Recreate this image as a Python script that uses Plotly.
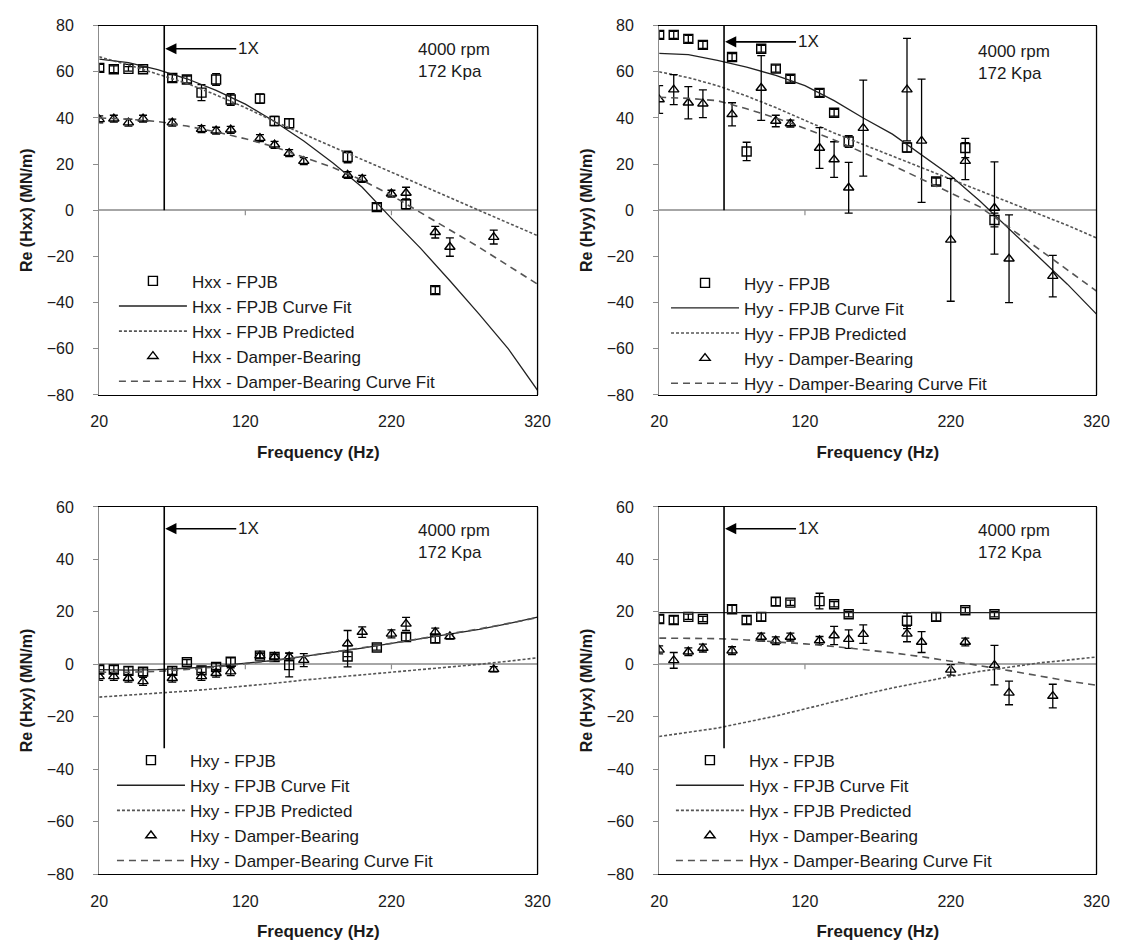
import plotly.graph_objects as go

# ---------------- data ----------------
FREQ_FIT = [20, 40, 60, 80, 100, 120, 140, 160, 180, 200, 220, 240, 260, 280, 300, 320]
ONE_X = 64.5  # running speed, 4000 rpm

# Hxx
hxx_fpjb_f = [20, 30, 40, 50, 70, 80, 90, 100, 110, 130, 140, 150, 190, 210, 230, 250]
hxx_fpjb_v = [61.7, 61.1, 61.3, 61.1, 57.3, 56.7, 51.0, 56.7, 48.0, 48.4, 38.7, 37.7, 23.1, 1.4, 2.6, -34.6]
hxx_fpjb_e = [1.5, 1.5, 1.0, 1.0, 1.5, 1.5, 3.5, 2.5, 2.5, 2.0, 2.0, 2.0, 2.5, 1.5, 2.0, 1.5]
hxx_db_f = [20, 30, 40, 50, 70, 90, 100, 110, 130, 140, 150, 160, 190, 200, 220, 230, 250, 260, 290]
hxx_db_v = [39.4, 39.7, 38.0, 39.7, 38.0, 35.2, 34.5, 34.9, 31.3, 28.4, 24.8, 21.3, 15.3, 13.6, 7.2, 7.5, -9.5, -15.9, -11.6]
hxx_db_e = [1.5, 1.5, 1.5, 1.5, 1.5, 1.5, 1.5, 1.5, 1.5, 1.5, 1.5, 1.5, 1.5, 1.5, 1.5, 2.5, 2.5, 4.0, 3.0]
hxx_fit = [65.5, 64.0, 61.0, 57.0, 52.0, 46.0, 38.5, 30.0, 20.5, 10.0, -3.5, -16.5, -30.5, -45.0, -60.0, -78.0]
hxx_pred = [66.5, 63.0, 59.0, 55.0, 50.0, 44.5, 38.5, 33.0, 27.5, 22.0, 16.5, 11.0, 5.5, 0.0, -5.5, -11.0]
hxx_db_fit = [40.0, 39.5, 38.5, 36.5, 34.0, 31.0, 27.5, 23.0, 18.5, 13.0, 6.5, -1.0, -8.5, -16.0, -24.0, -32.0]

# Hyy
hyy_fpjb_f = [20, 30, 40, 50, 70, 80, 90, 100, 110, 130, 140, 150, 190, 210, 230, 250]
hyy_fpjb_v = [76.0, 76.0, 74.3, 71.7, 66.4, 25.5, 70.0, 61.4, 57.0, 50.9, 42.3, 29.8, 27.2, 12.5, 27.0, -4.2]
hyy_fpjb_e = [1.5, 1.5, 1.5, 1.5, 1.5, 4.0, 1.5, 1.5, 1.5, 1.5, 1.5, 2.5, 2.0, 1.5, 4.2, 3.0]
hyy_db_f = [20, 30, 40, 50, 70, 90, 100, 110, 130, 140, 150, 160, 190, 200, 220, 230, 250, 260, 290]
hyy_db_v = [48.0, 52.3, 46.6, 46.2, 41.6, 53.0, 38.7, 37.6, 27.0, 22.0, 9.8, 35.6, 52.3, 30.1, -12.8, 21.3, 1.0, -21.0, -28.5]
hyy_db_e = [6.0, 6.5, 7.0, 6.0, 5.0, 14.0, 2.5, 1.5, 8.8, 7.7, 11.0, 20.8, 22.2, 26.7, 26.6, 8.0, 20.0, 19.0, 9.0]
hyy_fit = [68.0, 67.5, 65.0, 62.0, 58.5, 54.0, 47.5, 40.0, 33.0, 24.0, 15.0, 4.0, -8.0, -20.0, -32.0, -45.0]
hyy_pred = [60.0, 57.5, 54.0, 49.5, 44.5, 39.0, 33.5, 28.5, 23.5, 18.5, 13.5, 8.5, 3.5, -1.5, -6.5, -12.0]
hyy_db_fit = [49.0, 48.5, 47.5, 44.0, 40.0, 35.5, 30.5, 25.0, 19.5, 13.5, 7.5, 1.5, -7.4, -16.6, -25.8, -35.0]

# Hxy
hxy_fpjb_f = [20, 30, 40, 50, 70, 80, 90, 100, 110, 130, 140, 150, 190, 210, 230, 250]
hxy_fpjb_v = [-2.0, -2.0, -2.5, -2.8, -2.5, 0.8, -2.3, -1.0, 1.0, 3.3, 2.8, -0.3, 3.0, 6.4, 10.4, 9.8]
hxy_fpjb_e = [1.5, 1.5, 1.5, 1.5, 1.5, 1.0, 1.5, 1.5, 1.5, 1.0, 1.0, 4.5, 4.0, 1.0, 1.5, 1.5]
hxy_db_f = [20, 30, 40, 50, 70, 90, 100, 110, 130, 140, 150, 160, 190, 200, 220, 230, 250, 260, 290]
hxy_db_v = [-4.6, -4.6, -5.3, -6.5, -5.3, -4.6, -3.4, -2.8, 3.3, 2.9, 2.9, 1.6, 7.9, 12.3, 11.6, 15.4, 12.3, 10.6, -1.9]
hxy_db_e = [1.5, 1.5, 1.5, 1.5, 1.5, 1.5, 1.5, 1.5, 1.0, 1.0, 1.5, 2.5, 5.0, 2.0, 1.5, 2.5, 1.5, 1.0, 1.0]
hxy_fit = [-2.0, -2.2, -2.0, -1.5, -0.7, 0.3, 1.5, 3.0, 4.5, 6.2, 8.0, 9.8, 11.5, 13.3, 15.5, 18.0]
hxy_pred = [-12.5, -11.8, -11.0, -10.2, -9.3, -8.3, -7.2, -6.0, -5.0, -4.1, -3.2, -2.2, -1.2, 0.0, 1.2, 2.5]
hxy_db_fit = [-3.0, -3.0, -2.7, -2.0, -1.0, 0.2, 1.5, 3.0, 4.6, 6.3, 8.0, 9.8, 11.6, 13.5, 15.6, 17.8]

# Hyx
hyx_fpjb_f = [20, 30, 40, 50, 70, 80, 90, 100, 110, 130, 140, 150, 190, 210, 230, 250]
hyx_fpjb_v = [17.3, 16.9, 18.1, 17.3, 21.0, 16.9, 18.1, 23.9, 23.5, 24.1, 22.9, 19.1, 16.6, 18.1, 20.6, 19.1]
hyx_fpjb_e = [1.5, 1.5, 1.0, 1.0, 1.5, 1.5, 1.5, 1.5, 1.0, 3.0, 1.0, 1.0, 3.0, 1.5, 1.0, 1.0]
hyx_db_f = [20, 30, 40, 50, 70, 90, 100, 110, 130, 140, 150, 160, 190, 200, 220, 230, 250, 260, 290]
hyx_db_v = [5.5, 1.5, 4.8, 6.2, 5.2, 10.4, 9.0, 10.4, 9.1, 11.0, 9.6, 11.5, 11.6, 8.5, -2.1, 8.5, -0.3, -10.9, -12.1]
hyx_db_e = [1.5, 3.0, 1.5, 1.5, 1.5, 1.5, 1.5, 1.5, 1.5, 3.5, 3.5, 3.5, 3.0, 4.0, 2.0, 1.5, 7.5, 4.5, 4.5]
hyx_fit = [19.7] * 16
hyx_pred = [-27.5, -26.0, -24.3, -22.0, -19.7, -17.0, -14.2, -11.5, -9.0, -6.7, -4.6, -2.7, -1.0, 0.5, 1.6, 2.8]
hyx_db_fit = [10.0, 10.0, 9.8, 9.3, 8.6, 7.8, 6.8, 5.7, 4.4, 2.9, 1.3, -0.5, -2.4, -4.4, -6.3, -8.0]

PANELS = [
    dict(name="Hxx", sq=(hxx_fpjb_f, hxx_fpjb_v, hxx_fpjb_e), tri=(hxx_db_f, hxx_db_v, hxx_db_e),
         fit=hxx_fit, pred=hxx_pred, dbfit=hxx_db_fit),
    dict(name="Hyy", sq=(hyy_fpjb_f, hyy_fpjb_v, hyy_fpjb_e), tri=(hyy_db_f, hyy_db_v, hyy_db_e),
         fit=hyy_fit, pred=hyy_pred, dbfit=hyy_db_fit),
    dict(name="Hxy", sq=(hxy_fpjb_f, hxy_fpjb_v, hxy_fpjb_e), tri=(hxy_db_f, hxy_db_v, hxy_db_e),
         fit=hxy_fit, pred=hxy_pred, dbfit=hxy_db_fit),
    dict(name="Hyx", sq=(hyx_fpjb_f, hyx_fpjb_v, hyx_fpjb_e), tri=(hyx_db_f, hyx_db_v, hyx_db_e),
         fit=hyx_fit, pred=hyx_pred, dbfit=hyx_db_fit),
]

# ---------------- layout geometry ----------------
W, H = 1136, 950
X_DOM = [(92 / W, 539 / W), (663 / W, 1109 / W), (92 / W, 539 / W), (663 / W, 1109 / W)]
Y_DOM = [(1 - 394 / H, 1 - 18 / H), (1 - 394 / H, 1 - 18 / H),
         (1 - 882 / H, 1 - 508 / H), (1 - 882 / H, 1 - 508 / H)]
Y_RANGE = [(-80, 80), (-80, 80), (-80, 60), (-80, 60)]
ONE_X_BOTTOM = [0, 0, -32, -32]
ARROW_Y = [70, 73, 51.7, 51.7]
NOTE_Y = [65, 64, 47, 47]
LEGEND_POS = [(107, 260), (670, 262), (105, 748), (675, 748)]

FONT = "Arial, 'Liberation Sans', sans-serif"
TXT = "#1a1a1a"
AXIS_GRAY = "#8c8c8c"

fig = go.Figure()
layout = dict(
    width=W, height=H, margin=dict(l=0, r=0, t=0, b=0),
    paper_bgcolor="white", plot_bgcolor="white",
    font=dict(family=FONT, size=16, color=TXT),
    showlegend=True,
)
shapes, annotations = [], []

for i, p in enumerate(PANELS):
    n = "" if i == 0 else str(i + 1)
    xa, ya = "x" + n, "y" + n
    leg = "legend" + n
    nm = p["name"]

    sf, sv, se = p["sq"]
    tf, tv, te = p["tri"]
    err = dict(type="data", visible=True, thickness=1.3, width=4, color="black")

    fig.add_trace(go.Scatter(
        x=sf, y=sv, error_y=dict(array=se, **err), mode="markers", name=f"{nm} - FPJB",
        marker=dict(symbol="square-open", size=9, color="black", line=dict(width=1.4)),
        xaxis=xa, yaxis=ya, legend=leg))
    fig.add_trace(go.Scatter(
        x=FREQ_FIT, y=p["fit"], mode="lines", name=f"{nm} - FPJB Curve Fit",
        line=dict(color="#222222", width=1.3),
        xaxis=xa, yaxis=ya, legend=leg))
    fig.add_trace(go.Scatter(
        x=FREQ_FIT, y=p["pred"], mode="lines", name=f"{nm} - FPJB Predicted",
        line=dict(color="#555555", width=1.6, dash="3px,2px"),
        xaxis=xa, yaxis=ya, legend=leg))
    fig.add_trace(go.Scatter(
        x=tf, y=tv, error_y=dict(array=te, **err), mode="markers", name=f"{nm} - Damper-Bearing",
        marker=dict(symbol="triangle-up-open", size=9, color="black", line=dict(width=1.4)),
        xaxis=xa, yaxis=ya, legend=leg))
    fig.add_trace(go.Scatter(
        x=FREQ_FIT, y=p["dbfit"], mode="lines", name=f"{nm} - Damper-Bearing Curve Fit",
        line=dict(color="#555555", width=1.6, dash="7px,5px"),
        xaxis=xa, yaxis=ya, legend=leg))

    # bottom and top frame edges come from the x axis line (mirrored)
    layout["xaxis" + n] = dict(
        domain=list(X_DOM[i]), anchor=ya, range=[20, 320], tickvals=[20, 120, 220, 320],
        ticks="", showline=True, linecolor="black", linewidth=1.3, mirror=True,
        showgrid=False, zeroline=False,
        tickfont=dict(size=16, color=TXT), ticklabelstandoff=12,
        title=dict(text="<b>Frequency (Hz)</b>", font=dict(size=17, color=TXT), standoff=16),
    )
    layout["yaxis" + n] = dict(
        domain=list(Y_DOM[i]), anchor=xa, range=list(Y_RANGE[i]), dtick=20,
        ticks="outside", ticklen=5, tickcolor=AXIS_GRAY, tickwidth=1,
        showline=True, linecolor=AXIS_GRAY, linewidth=1.2, showgrid=False,
        zeroline=True, zerolinecolor="#a6a6a6", zerolinewidth=1.5,
        tickfont=dict(size=16, color=TXT), ticklabelstandoff=16,
        title=dict(text=f"<b>Re ({nm}) (MN/m)</b>", font=dict(size=16, color=TXT), standoff=10),
    )

    lx, ly = LEGEND_POS[i]
    layout[leg] = dict(
        x=lx / W, y=1 - ly / H, xanchor="left", yanchor="top",
        bgcolor="rgba(0,0,0,0)", borderwidth=0, itemwidth=68,
        font=dict(size=17, color=TXT), tracegroupgap=0,
    )

    # right edge of the frame
    shapes.append(dict(type="line", xref=f"{xa} domain", yref=f"{ya} domain",
                       x0=1, x1=1, y0=0, y1=1, line=dict(color="black", width=1.3)))
    # tick marks on the zero axis
    for tx in (120, 220):
        shapes.append(dict(type="line", xref=xa, yref=ya, x0=tx, x1=tx,
                           ysizemode="pixel", yanchor=0, y0=-5, y1=0,
                           line=dict(color=AXIS_GRAY, width=1.2)))
    # 1X running-speed marker
    shapes.append(dict(type="line", xref=xa, yref=ya, x0=ONE_X, x1=ONE_X,
                       y0=ONE_X_BOTTOM[i], y1=Y_RANGE[i][1], line=dict(color="black", width=1.6)))
    annotations.append(dict(xref=xa, yref=ya, x=ONE_X, y=ARROW_Y[i], ax=84, ay=0,
                            axref="pixel", ayref="pixel", text="1X", showarrow=True,
                            arrowhead=2, arrowsize=1.4, arrowwidth=1.6, arrowcolor="black",
                            standoff=1, font=dict(size=17, color=TXT)))
    annotations.append(dict(xref=xa, yref=ya, x=237, y=NOTE_Y[i], xanchor="left", yanchor="middle",
                            align="left", showarrow=False, text="4000 rpm<br>172 Kpa",
                            font=dict(size=17, color=TXT)))

layout["shapes"] = shapes
layout["annotations"] = annotations
fig.update_layout(**layout)
fig.write_html("out.html")
